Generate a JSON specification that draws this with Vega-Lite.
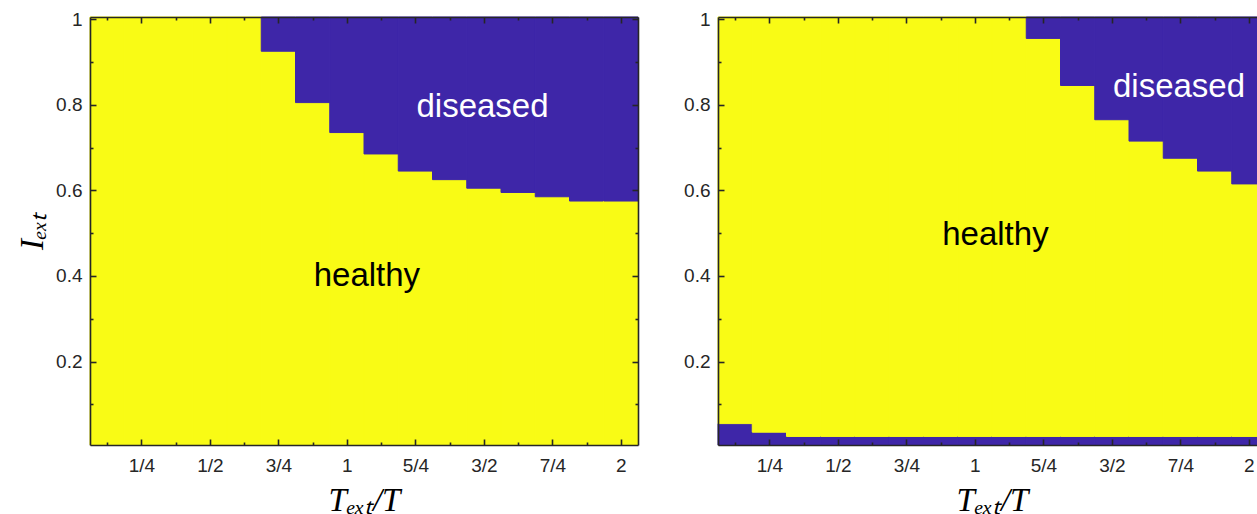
{
  "$schema": "https://vega.github.io/schema/vega-lite/v6.json",
  "background": "white",
  "padding": {"left": 16, "top": 10, "right": 0, "bottom": 0},
  "bounds": "flush",
  "spacing": 80,
  "config": {
    "view": {"stroke": null},
    "axis": {
      "grid": false,
      "domainColor": "#262626",
      "domainWidth": 1.6,
      "tickColor": "#262626",
      "tickWidth": 1.6,
      "tickSize": -6,
      "labelColor": "#262626",
      "labelFont": "Liberation Sans",
      "labelFontSize": 19,
      "labelFlush": false,
      "labelOverlap": false,
      "titleFont": "Liberation Serif",
      "titleFontStyle": "italic",
      "titleFontWeight": "normal",
      "titleFontSize": 33,
      "titleColor": "black"
    }
  },
  "datasets": {
    "left": [
      {"t0": 0.0625, "t1": 0.1875, "i0": 0.005, "i1": 1.005, "state": "healthy"},
      {"t0": 0.1875, "t1": 0.3125, "i0": 0.005, "i1": 1.005, "state": "healthy"},
      {"t0": 0.3125, "t1": 0.4375, "i0": 0.005, "i1": 1.005, "state": "healthy"},
      {"t0": 0.4375, "t1": 0.5625, "i0": 0.005, "i1": 1.005, "state": "healthy"},
      {"t0": 0.5625, "t1": 0.6875, "i0": 0.005, "i1": 1.005, "state": "healthy"},
      {"t0": 0.6875, "t1": 0.8125, "i0": 0.005, "i1": 0.925, "state": "healthy"},
      {"t0": 0.6875, "t1": 0.8125, "i0": 0.925, "i1": 1.005, "state": "diseased"},
      {"t0": 0.8125, "t1": 0.9375, "i0": 0.005, "i1": 0.805, "state": "healthy"},
      {"t0": 0.8125, "t1": 0.9375, "i0": 0.805, "i1": 1.005, "state": "diseased"},
      {"t0": 0.9375, "t1": 1.0625, "i0": 0.005, "i1": 0.735, "state": "healthy"},
      {"t0": 0.9375, "t1": 1.0625, "i0": 0.735, "i1": 1.005, "state": "diseased"},
      {"t0": 1.0625, "t1": 1.1875, "i0": 0.005, "i1": 0.685, "state": "healthy"},
      {"t0": 1.0625, "t1": 1.1875, "i0": 0.685, "i1": 1.005, "state": "diseased"},
      {"t0": 1.1875, "t1": 1.3125, "i0": 0.005, "i1": 0.645, "state": "healthy"},
      {"t0": 1.1875, "t1": 1.3125, "i0": 0.645, "i1": 1.005, "state": "diseased"},
      {"t0": 1.3125, "t1": 1.4375, "i0": 0.005, "i1": 0.625, "state": "healthy"},
      {"t0": 1.3125, "t1": 1.4375, "i0": 0.625, "i1": 1.005, "state": "diseased"},
      {"t0": 1.4375, "t1": 1.5625, "i0": 0.005, "i1": 0.605, "state": "healthy"},
      {"t0": 1.4375, "t1": 1.5625, "i0": 0.605, "i1": 1.005, "state": "diseased"},
      {"t0": 1.5625, "t1": 1.6875, "i0": 0.005, "i1": 0.595, "state": "healthy"},
      {"t0": 1.5625, "t1": 1.6875, "i0": 0.595, "i1": 1.005, "state": "diseased"},
      {"t0": 1.6875, "t1": 1.8125, "i0": 0.005, "i1": 0.585, "state": "healthy"},
      {"t0": 1.6875, "t1": 1.8125, "i0": 0.585, "i1": 1.005, "state": "diseased"},
      {"t0": 1.8125, "t1": 1.9375, "i0": 0.005, "i1": 0.575, "state": "healthy"},
      {"t0": 1.8125, "t1": 1.9375, "i0": 0.575, "i1": 1.005, "state": "diseased"},
      {"t0": 1.9375, "t1": 2.0625, "i0": 0.005, "i1": 0.575, "state": "healthy"},
      {"t0": 1.9375, "t1": 2.0625, "i0": 0.575, "i1": 1.005, "state": "diseased"}
    ],
    "right": [
      {"t0": 0.0625, "t1": 0.1875, "i0": 0.005, "i1": 0.055, "state": "diseased"},
      {"t0": 0.0625, "t1": 0.1875, "i0": 0.055, "i1": 1.005, "state": "healthy"},
      {"t0": 0.1875, "t1": 0.3125, "i0": 0.005, "i1": 0.035, "state": "diseased"},
      {"t0": 0.1875, "t1": 0.3125, "i0": 0.035, "i1": 1.005, "state": "healthy"},
      {"t0": 0.3125, "t1": 0.4375, "i0": 0.005, "i1": 0.025, "state": "diseased"},
      {"t0": 0.3125, "t1": 0.4375, "i0": 0.025, "i1": 1.005, "state": "healthy"},
      {"t0": 0.4375, "t1": 0.5625, "i0": 0.005, "i1": 0.025, "state": "diseased"},
      {"t0": 0.4375, "t1": 0.5625, "i0": 0.025, "i1": 1.005, "state": "healthy"},
      {"t0": 0.5625, "t1": 0.6875, "i0": 0.005, "i1": 0.025, "state": "diseased"},
      {"t0": 0.5625, "t1": 0.6875, "i0": 0.025, "i1": 1.005, "state": "healthy"},
      {"t0": 0.6875, "t1": 0.8125, "i0": 0.005, "i1": 0.025, "state": "diseased"},
      {"t0": 0.6875, "t1": 0.8125, "i0": 0.025, "i1": 1.005, "state": "healthy"},
      {"t0": 0.8125, "t1": 0.9375, "i0": 0.005, "i1": 0.025, "state": "diseased"},
      {"t0": 0.8125, "t1": 0.9375, "i0": 0.025, "i1": 1.005, "state": "healthy"},
      {"t0": 0.9375, "t1": 1.0625, "i0": 0.005, "i1": 0.025, "state": "diseased"},
      {"t0": 0.9375, "t1": 1.0625, "i0": 0.025, "i1": 1.005, "state": "healthy"},
      {"t0": 1.0625, "t1": 1.1875, "i0": 0.005, "i1": 0.025, "state": "diseased"},
      {"t0": 1.0625, "t1": 1.1875, "i0": 0.025, "i1": 1.005, "state": "healthy"},
      {"t0": 1.1875, "t1": 1.3125, "i0": 0.005, "i1": 0.025, "state": "diseased"},
      {"t0": 1.1875, "t1": 1.3125, "i0": 0.025, "i1": 0.955, "state": "healthy"},
      {"t0": 1.1875, "t1": 1.3125, "i0": 0.955, "i1": 1.005, "state": "diseased"},
      {"t0": 1.3125, "t1": 1.4375, "i0": 0.005, "i1": 0.025, "state": "diseased"},
      {"t0": 1.3125, "t1": 1.4375, "i0": 0.025, "i1": 0.845, "state": "healthy"},
      {"t0": 1.3125, "t1": 1.4375, "i0": 0.845, "i1": 1.005, "state": "diseased"},
      {"t0": 1.4375, "t1": 1.5625, "i0": 0.005, "i1": 0.025, "state": "diseased"},
      {"t0": 1.4375, "t1": 1.5625, "i0": 0.025, "i1": 0.765, "state": "healthy"},
      {"t0": 1.4375, "t1": 1.5625, "i0": 0.765, "i1": 1.005, "state": "diseased"},
      {"t0": 1.5625, "t1": 1.6875, "i0": 0.005, "i1": 0.025, "state": "diseased"},
      {"t0": 1.5625, "t1": 1.6875, "i0": 0.025, "i1": 0.715, "state": "healthy"},
      {"t0": 1.5625, "t1": 1.6875, "i0": 0.715, "i1": 1.005, "state": "diseased"},
      {"t0": 1.6875, "t1": 1.8125, "i0": 0.005, "i1": 0.025, "state": "diseased"},
      {"t0": 1.6875, "t1": 1.8125, "i0": 0.025, "i1": 0.675, "state": "healthy"},
      {"t0": 1.6875, "t1": 1.8125, "i0": 0.675, "i1": 1.005, "state": "diseased"},
      {"t0": 1.8125, "t1": 1.9375, "i0": 0.005, "i1": 0.025, "state": "diseased"},
      {"t0": 1.8125, "t1": 1.9375, "i0": 0.025, "i1": 0.645, "state": "healthy"},
      {"t0": 1.8125, "t1": 1.9375, "i0": 0.645, "i1": 1.005, "state": "diseased"},
      {"t0": 1.9375, "t1": 2.0625, "i0": 0.005, "i1": 0.025, "state": "diseased"},
      {"t0": 1.9375, "t1": 2.0625, "i0": 0.025, "i1": 0.615, "state": "healthy"},
      {"t0": 1.9375, "t1": 2.0625, "i0": 0.615, "i1": 1.005, "state": "diseased"}
    ],
    "labelsLeft": [
      {"t": 1.073, "i": 0.400, "label": "healthy"},
      {"t": 1.495, "i": 0.795, "label": "diseased"}
    ],
    "labelsRight": [
      {"t": 1.075, "i": 0.496, "label": "healthy"},
      {"t": 1.745, "i": 0.841, "label": "diseased"}
    ]
  },
  "hconcat": [
    {
      "width": 548,
      "height": 428,
      "layer": [
        {
          "data": {"name": "left"},
          "mark": {"type": "rect", "strokeWidth": 1},
          "encoding": {
            "x": {"field": "t0", "type": "quantitative",
              "scale": {"domain": [0.0625, 2.0625], "nice": false, "zero": false},
              "axis": {"orient": "bottom", "zindex": 2, "values": [0.125, 0.25, 0.375, 0.5, 0.625, 0.75, 0.875, 1, 1.125, 1.25, 1.375, 1.5, 1.625, 1.75, 1.875, 2],
                "labelExpr": "datum.value == 0.25 ? '1/4' : datum.value == 0.5 ? '1/2' : datum.value == 0.75 ? '3/4' : datum.value == 1 ? '1' : datum.value == 1.25 ? '5/4' : datum.value == 1.5 ? '3/2' : datum.value == 1.75 ? '7/4' : datum.value == 2 ? '2' : ''",
                "tickDash": {"condition": {"test": "datum.value*4 != round(datum.value*4)", "value": [3, 20]}, "value": []},
                "labelPadding": 17, "titlePadding": 9, "title": "Tₑₓₜ/T"}},
            "x2": {"field": "t1"},
            "y": {"field": "i0", "type": "quantitative",
              "scale": {"domain": [0.005, 1.005], "nice": false, "zero": false},
              "axis": {"orient": "left", "zindex": 2, "values": [0.1, 0.2, 0.3, 0.4, 0.5, 0.6, 0.7, 0.8, 0.9, 1],
                "labelExpr": "datum.value == 1 ? '1' : (round(datum.value*10) % 2 == 0 ? format(datum.value, '.1f') : '')",
                "tickDash": {"condition": {"test": "round(datum.value*10) % 2 == 1", "value": [3, 20]}, "value": []},
                "labelPadding": 14, "titlePadding": 6, "title": "Iₑₓₜ"}},
            "y2": {"field": "i1"},
            "color": {"field": "state", "type": "nominal", "scale": {"domain": ["healthy", "diseased"], "range": ["#F9FB15", "#3E26A8"]}, "legend": null},
            "stroke": {"field": "state", "type": "nominal", "scale": {"domain": ["healthy", "diseased"], "range": ["#F9FB15", "#3E26A8"]}, "legend": null}
          }
        },
        {
          "data": {"name": "labelsLeft"},
          "mark": {"type": "text", "font": "Liberation Sans", "fontSize": 33, "baseline": "middle", "align": "center"},
          "encoding": {
            "x": {"field": "t", "type": "quantitative",
              "axis": {"orient": "top", "zindex": 2, "values": [0.125, 0.25, 0.375, 0.5, 0.625, 0.75, 0.875, 1, 1.125, 1.25, 1.375, 1.5, 1.625, 1.75, 1.875, 2], "labels": false, "title": null,
                "tickDash": {"condition": {"test": "datum.value*4 != round(datum.value*4)", "value": [3, 20]}, "value": []}}},
            "y": {"field": "i", "type": "quantitative",
              "axis": {"orient": "right", "zindex": 2, "values": [0.1, 0.2, 0.3, 0.4, 0.5, 0.6, 0.7, 0.8, 0.9, 1], "labels": false, "title": null,
                "tickDash": {"condition": {"test": "round(datum.value*10) % 2 == 1", "value": [3, 20]}, "value": []}}},
            "text": {"field": "label"},
            "color": {"field": "label", "type": "nominal", "scale": {"domain": ["healthy", "diseased"], "range": ["#000000", "#FFFFFF"]}, "legend": null}
          }
        }
      ],
      "resolve": {"axis": {"x": "independent", "y": "independent"}, "scale": {"color": "independent"}}
    },
    {
      "width": 548,
      "height": 428,
      "layer": [
        {
          "data": {"name": "right"},
          "mark": {"type": "rect", "strokeWidth": 1},
          "encoding": {
            "x": {"field": "t0", "type": "quantitative",
              "scale": {"domain": [0.0625, 2.0625], "nice": false, "zero": false},
              "axis": {"orient": "bottom", "zindex": 2, "values": [0.125, 0.25, 0.375, 0.5, 0.625, 0.75, 0.875, 1, 1.125, 1.25, 1.375, 1.5, 1.625, 1.75, 1.875, 2],
                "labelExpr": "datum.value == 0.25 ? '1/4' : datum.value == 0.5 ? '1/2' : datum.value == 0.75 ? '3/4' : datum.value == 1 ? '1' : datum.value == 1.25 ? '5/4' : datum.value == 1.5 ? '3/2' : datum.value == 1.75 ? '7/4' : datum.value == 2 ? '2' : ''",
                "tickDash": {"condition": {"test": "datum.value*4 != round(datum.value*4)", "value": [3, 20]}, "value": []},
                "labelPadding": 17, "titlePadding": 9, "title": "Tₑₓₜ/T"}},
            "x2": {"field": "t1"},
            "y": {"field": "i0", "type": "quantitative",
              "scale": {"domain": [0.005, 1.005], "nice": false, "zero": false},
              "axis": {"orient": "left", "zindex": 2, "values": [0.1, 0.2, 0.3, 0.4, 0.5, 0.6, 0.7, 0.8, 0.9, 1],
                "labelExpr": "datum.value == 1 ? '1' : (round(datum.value*10) % 2 == 0 ? format(datum.value, '.1f') : '')",
                "tickDash": {"condition": {"test": "round(datum.value*10) % 2 == 1", "value": [3, 20]}, "value": []},
                "labelPadding": 14, "title": null}},
            "y2": {"field": "i1"},
            "color": {"field": "state", "type": "nominal", "scale": {"domain": ["healthy", "diseased"], "range": ["#F9FB15", "#3E26A8"]}, "legend": null},
            "stroke": {"field": "state", "type": "nominal", "scale": {"domain": ["healthy", "diseased"], "range": ["#F9FB15", "#3E26A8"]}, "legend": null}
          }
        },
        {
          "data": {"name": "labelsRight"},
          "mark": {"type": "text", "font": "Liberation Sans", "fontSize": 33, "baseline": "middle", "align": "center"},
          "encoding": {
            "x": {"field": "t", "type": "quantitative",
              "axis": {"orient": "top", "zindex": 2, "values": [0.125, 0.25, 0.375, 0.5, 0.625, 0.75, 0.875, 1, 1.125, 1.25, 1.375, 1.5, 1.625, 1.75, 1.875, 2], "labels": false, "title": null,
                "tickDash": {"condition": {"test": "datum.value*4 != round(datum.value*4)", "value": [3, 20]}, "value": []}}},
            "y": {"field": "i", "type": "quantitative",
              "axis": {"orient": "right", "zindex": 2, "values": [0.1, 0.2, 0.3, 0.4, 0.5, 0.6, 0.7, 0.8, 0.9, 1], "labels": false, "title": null,
                "tickDash": {"condition": {"test": "round(datum.value*10) % 2 == 1", "value": [3, 20]}, "value": []}}},
            "text": {"field": "label"},
            "color": {"field": "label", "type": "nominal", "scale": {"domain": ["healthy", "diseased"], "range": ["#000000", "#FFFFFF"]}, "legend": null}
          }
        }
      ],
      "resolve": {"axis": {"x": "independent", "y": "independent"}, "scale": {"color": "independent"}}
    }
  ]
}
